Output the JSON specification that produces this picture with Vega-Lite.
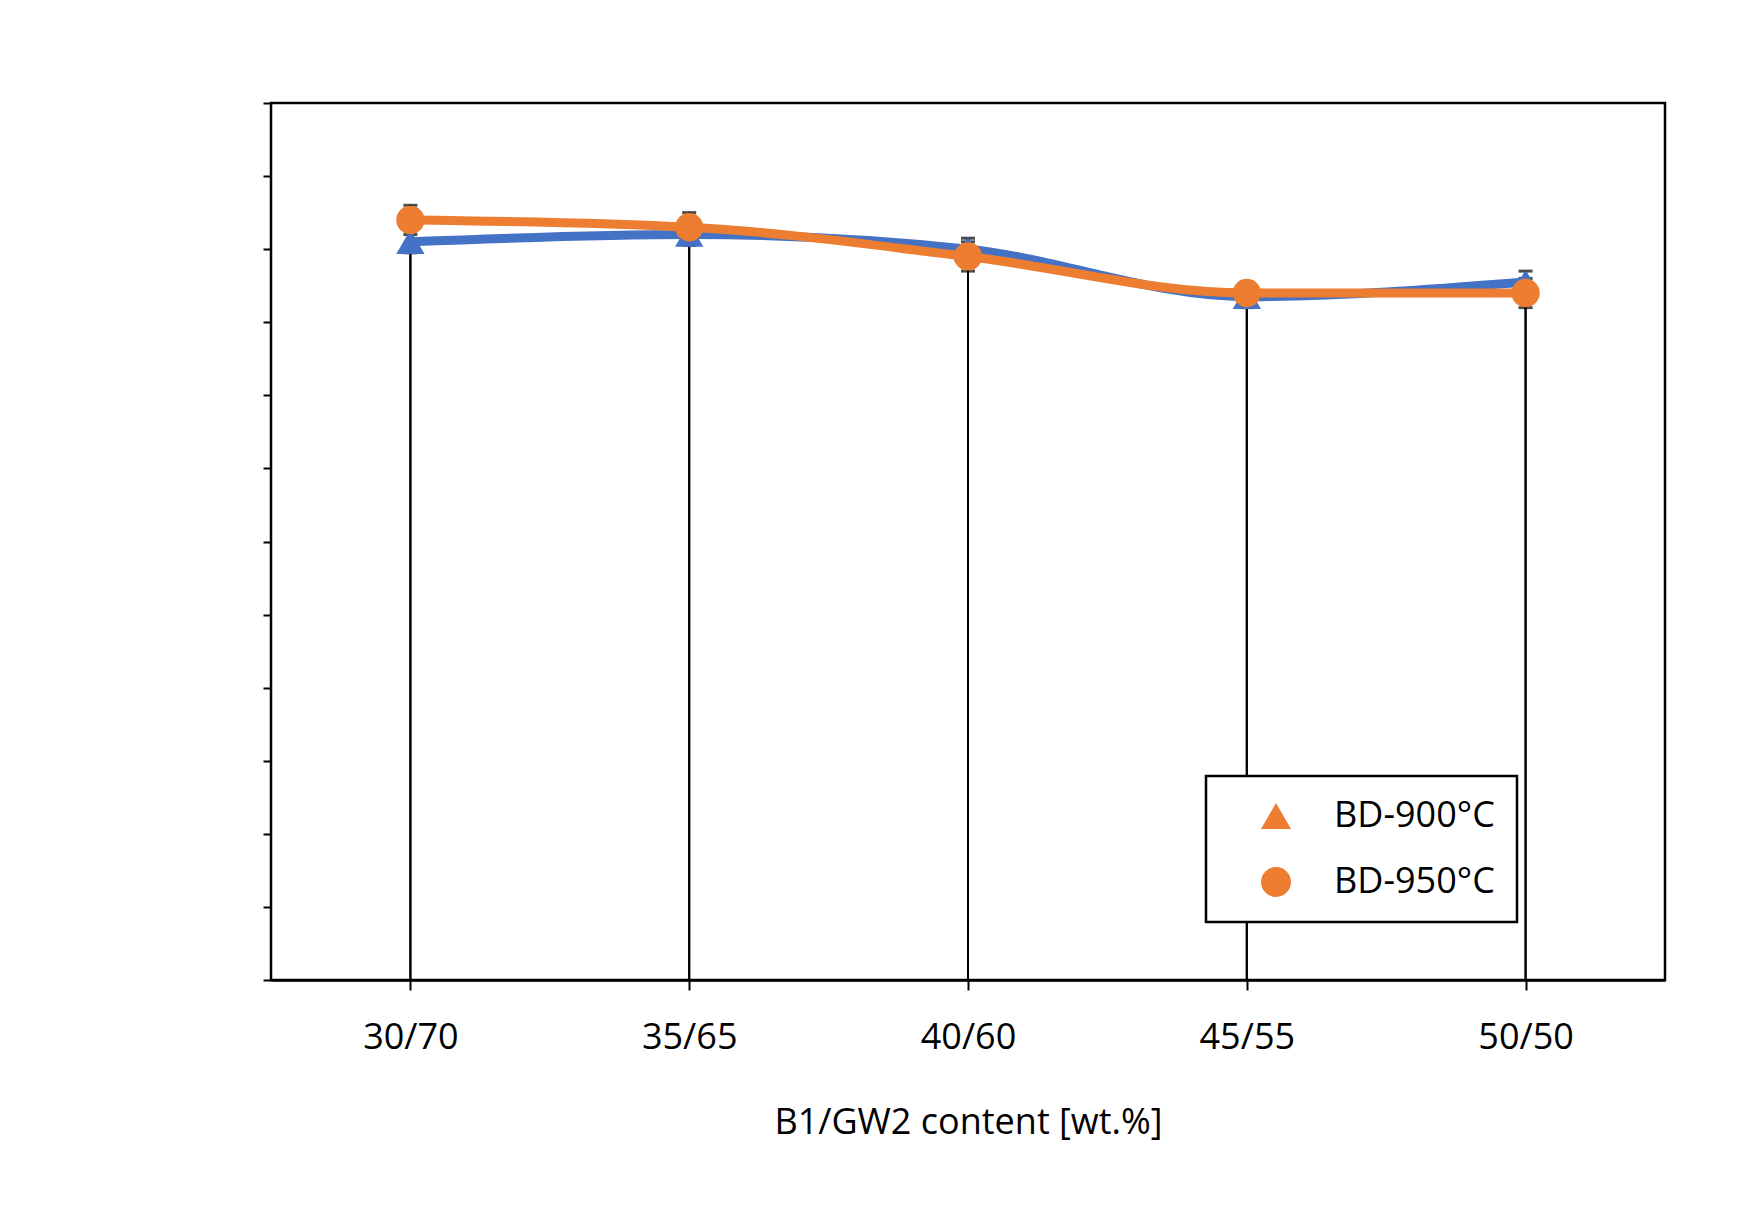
{
  "$schema": "https://vega.github.io/schema/vega-lite/v6.json",
  "autosize": "none",
  "width": 1394,
  "height": 877,
  "padding": {"left": 271, "top": 103, "right": 87, "bottom": 249},
  "background": "white",
  "data": {"values": [
    {"c": "30/70", "s": "BD-900°C", "v": 2.01, "lo": 1.995, "hi": 2.025},
    {"c": "35/65", "s": "BD-900°C", "v": 2.02, "lo": 2.005, "hi": 2.035},
    {"c": "40/60", "s": "BD-900°C", "v": 2.0, "lo": 1.985, "hi": 2.015},
    {"c": "45/55", "s": "BD-900°C", "v": 1.935, "lo": 1.92, "hi": 1.95},
    {"c": "50/50", "s": "BD-900°C", "v": 1.955, "lo": 1.94, "hi": 1.97},
    {"c": "30/70", "s": "BD-950°C", "v": 2.04, "lo": 2.02, "hi": 2.06},
    {"c": "35/65", "s": "BD-950°C", "v": 2.03, "lo": 2.01, "hi": 2.05},
    {"c": "40/60", "s": "BD-950°C", "v": 1.99, "lo": 1.97, "hi": 2.01},
    {"c": "45/55", "s": "BD-950°C", "v": 1.94, "lo": 1.925, "hi": 1.955},
    {"c": "50/50", "s": "BD-950°C", "v": 1.94, "lo": 1.92, "hi": 1.96}
  ]},
  "encoding": {
    "x": {"field": "c", "type": "ordinal", "scale": {"type": "point", "padding": 0.5},
      "axis": {"title": "B1/GW2 content [wt.%]", "labelAngle": 0, "labelFontSize": 36, "titleFontSize": 36,
        "labelPadding": 30, "titlePadding": 50, "tickSize": 10, "domainWidth": 2.5, "tickWidth": 2, "grid": false, "domainColor": "black", "tickColor": "black"}},
    "y": {"field": "v", "type": "quantitative", "scale": {"domain": [1, 2.2]}}
  },
  "layer": [
    {"mark": {"type": "rule", "color": "black", "strokeWidth": 2},
      "encoding": {"y": {"field": "v", "type": "quantitative", "axis": {"values": [1,1.05,1.1,1.15,1.2,1.25,1.3,1.35,1.4,1.45,1.5,1.55,1.6,1.65,1.7,1.75,1.8,1.85,1.9,1.95,2,2.05,2.1,2.15,2.2], "labels": false, "title": null, "tickSize": 8, "tickWidth": 2, "tickColor": "black", "domain": false, "grid": false}}}},
    {"mark": {"type": "rule", "color": "black", "strokeWidth": 3},
      "encoding": {"y": {"field": "lo", "type": "quantitative", "axis": {"values": [1,1.2,1.4,1.6,1.8,2,2.2], "format": ".2f", "title": "Bulk Density [g/cm3]", "labelFontSize": 36, "titleFontSize": 36, "labelPadding": 6, "titlePadding": 25, "tickSize": 14, "tickWidth": 2, "tickColor": "black", "domainWidth": 2.5, "domainColor": "black", "grid": false}}, "y2": {"field": "hi"}}},
    {"mark": {"type": "tick", "color": "black", "thickness": 3, "size": 14},
      "encoding": {"y": {"field": "hi", "type": "quantitative"}}},
    {"mark": {"type": "tick", "color": "black", "thickness": 3, "size": 14},
      "encoding": {"y": {"field": "lo", "type": "quantitative"}}},
    {"mark": {"type": "line", "interpolate": "monotone", "strokeWidth": 9},
      "encoding": {"color": {"field": "s", "type": "nominal", "scale": {"range": ["#4472c4", "#ed7d31"]}, "legend": null}}},
    {"mark": {"type": "point", "filled": true, "opacity": 1, "size": 800},
      "encoding": {
        "color": {"field": "s", "type": "nominal", "legend": null},
        "shape": {"field": "s", "type": "nominal", "scale": {"range": ["triangle-up", "circle"]},
          "legend": {"title": null, "orient": "none", "legendX": 935, "legendY": 673, "labelFontSize": 36, "symbolSize": 900, "symbolStrokeWidth": 0, "rowPadding": 30, "padding": 22, "strokeColor": "black", "labelLimit": 400, "symbolOffset": 30, "labelOffset": 40, "fillColor": "white"}}}}
  ],
  "config": {
    "font": "Open Sans",
    "view": {"stroke": "black", "strokeWidth": 2.5},
    "axis": {"labelColor": "black", "titleColor": "black", "titleFontWeight": "normal"},
    "legend": {"labelColor": "black", "symbolFillColor": "#ed7d31", "strokeWidth": 2.5}
  }
}
